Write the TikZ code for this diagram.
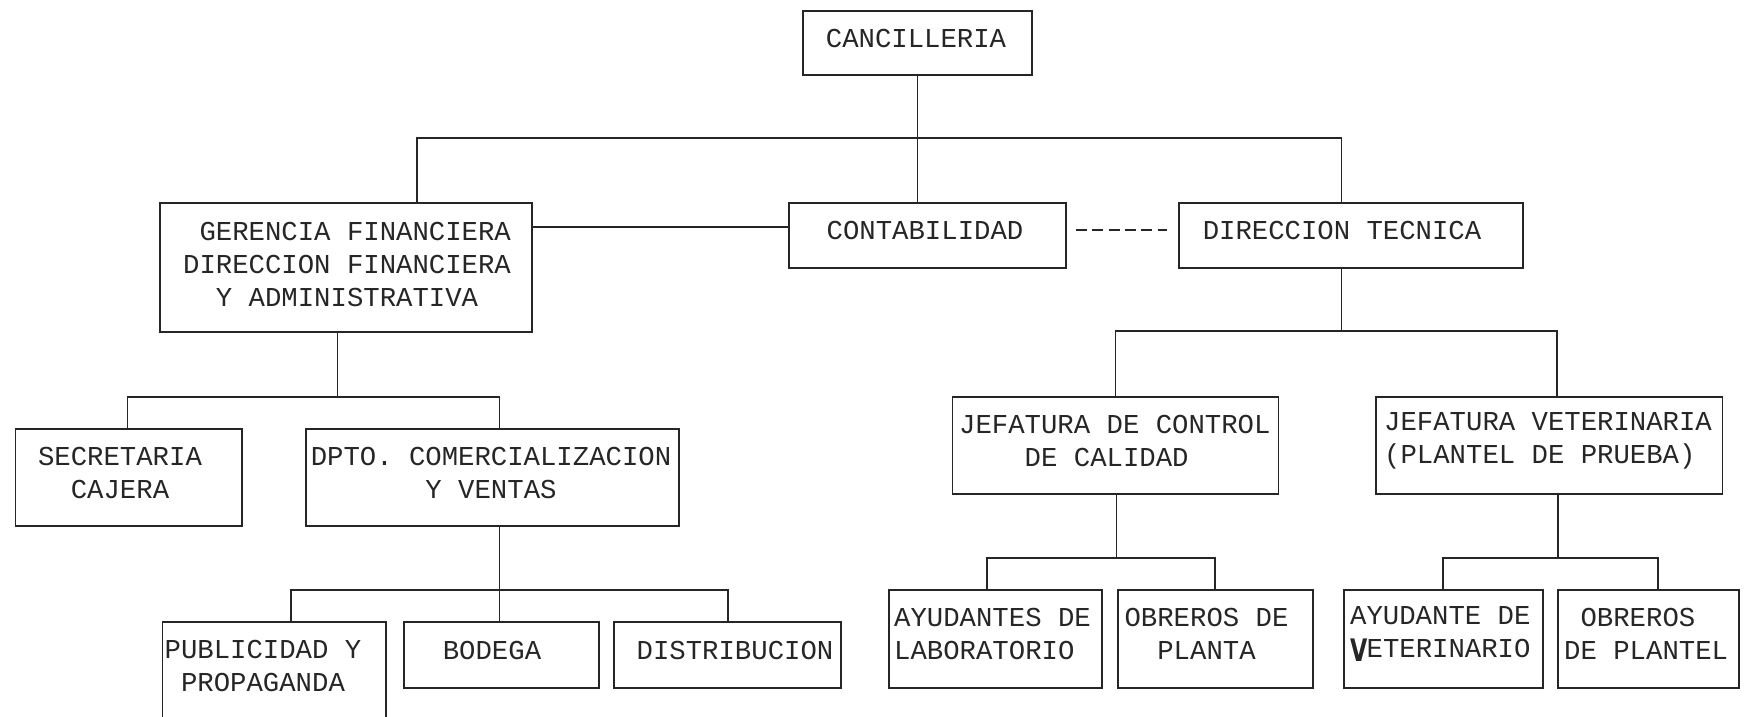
\documentclass[tikz,border=0pt]{standalone}
\usepackage{fontspec}
\usepackage{graphicx}
\newfontfamily\plotfont{Liberation Mono}
\newfontfamily\vfont{DejaVu Sans}
\newcommand\padc{\hphantom{X}}
\newcommand\boldV{\makebox[16.4pt][l]{\raisebox{-4pt}{\scalebox{0.72}[1]{\fontsize{31}{33}\vfont\bfseries V}}}}
\begin{document}
\begin{tikzpicture}[x=1pt,y=-1pt,
  box/.style={draw=black!85, line width=1.6pt, inner sep=0pt},
  txt/.style={inner sep=0pt, text=black!85, font=\plotfont\fontsize{27.3}{33}\selectfont},
  ln/.style={draw=black!85, line width=1.5pt}]
\clip (0,0) rectangle (1744,716);
\fill[white] (0,0) rectangle (1744,716);
% boxes
\node[box, minimum width=229, minimum height=64] (can) at (917.5,43) {};
\node[box, minimum width=372, minimum height=129] (ger) at (346,267.5) {};
\node[box, minimum width=277, minimum height=65] (con) at (927.5,235.5) {};
\node[box, minimum width=344, minimum height=65] (dir) at (1351,235.5) {};
\node[box, minimum width=226.5, minimum height=97] (sec) at (128.75,477.5) {};
\node[box, minimum width=373, minimum height=97] (dpto) at (492.5,477.5) {};
\node[box, minimum width=326, minimum height=97] (jcc) at (1115.6,445.3) {};
\node[box, minimum width=346.6, minimum height=97] (jv) at (1549,445.3) {};
\node[box, minimum width=223.5, minimum height=118] (pub) at (274.25,681) {};
\node[box, minimum width=195, minimum height=66] (bod) at (501.5,655) {};
\node[box, minimum width=227, minimum height=66] (dis) at (727.5,655) {};
\node[box, minimum width=213, minimum height=98] (ayl) at (995.5,639) {};
\node[box, minimum width=195, minimum height=98] (obp) at (1215.5,639) {};
\node[box, minimum width=199, minimum height=98] (ayv) at (1443.5,639) {};
\node[box, minimum width=181, minimum height=98] (obpl) at (1648.5,639) {};
% texts
\node[txt] (canT) at (916,38) {CANCILLERIA};
\node[txt, anchor=west, align=left] (gerT) at (183,264)
  {\padc GERENCIA FINANCIERA\\DIRECCION FINANCIERA\\\padc\padc Y ADMINISTRATIVA};
\node[txt] (conT) at (925,230) {CONTABILIDAD};
\node[txt] (dirT) at (1342,230) {DIRECCION TECNICA};
\node[txt, align=center] (secT) at (120,473) {SECRETARIA\\CAJERA};
\node[txt, align=center] (dptoT) at (491,473) {DPTO. COMERCIALIZACION\\Y VENTAS};
\node[txt, anchor=west, align=left] (jccT) at (959,441) {JEFATURA DE CONTROL\\\padc\padc\padc\padc DE CALIDAD};
\node[txt, anchor=west, align=left] (jvT) at (1384,441) {JEFATURA VETERINARIA\\(PLANTEL DE PRUEBA)};
\node[txt, anchor=west, align=left] (pubT) at (164.5,666) {PUBLICIDAD Y\\\padc PROPAGANDA};
\node[txt] (bodT) at (492,650) {BODEGA};
\node[txt] (disT) at (735,650) {DISTRIBUCION};
\node[txt, anchor=west, align=left] (aylT) at (894,634) {AYUDANTES DE\\LABORATORIO};
\node[txt, align=center] (obpT) at (1206.5,634) {OBREROS DE\\PLANTA};
\node[txt, anchor=west, align=left] (ayvT) at (1350,634) {AYUDANTE DE\\\boldV ETERINARIO};
\node[txt, anchor=west, align=left] (obplT) at (1564,634) {\padc OBREROS\\DE PLANTEL};
% connectors
\coordinate (t1) at (417,138);
\coordinate (t2) at (1341.5,138);
\draw[ln] (can.south) -- (can.south |- con.north);
\draw[ln] (t1 |- ger.north) -- (t1) -- (t2) -- (t2 |- dir.north);
\coordinate (h1) at (0,227);
\draw[ln] (ger.east |- h1) -- (con.west |- h1);
\coordinate (h2) at (0,230);
\draw[ln, dash pattern=on 11pt off 5.4pt] ([xshift=9pt]con.east |- h2) -- ([xshift=-11pt]dir.west |- h2);
\coordinate (d1) at (1341.5,331);
\coordinate (d2) at (1115.6,331);
\coordinate (d3) at (1557,331);
\draw[ln] (d1 |- dir.south) -- (d1);
\draw[ln] (jcc.north) -- (d2) -- (d3) -- (d3 |- jv.north);
\coordinate (g1) at (337.5,397);
\coordinate (g2) at (127.5,397);
\coordinate (g3) at (499.5,397);
\draw[ln] (g1 |- ger.south) -- (g1);
\draw[ln] (g2 |- sec.north) -- (g2) -- (g3) -- (g3 |- dpto.north);
\coordinate (p1) at (499.5,590);
\coordinate (p2) at (291,590);
\coordinate (p3) at (728,590);
\draw[ln] (p1 |- dpto.south) -- (p1 |- bod.north);
\draw[ln] (p2 |- pub.north) -- (p2) -- (p3) -- (p3 |- dis.north);
\coordinate (q1) at (1116.5,558);
\coordinate (q2) at (987,558);
\coordinate (q3) at (1215,558);
\draw[ln] (q1 |- jcc.south) -- (q1);
\draw[ln] (q2 |- ayl.north) -- (q2) -- (q3) -- (q3 |- obp.north);
\coordinate (r1) at (1558,558);
\coordinate (r2) at (1443,558);
\coordinate (r3) at (1658,558);
\draw[ln] (r1 |- jv.south) -- (r1);
\draw[ln] (r2 |- ayv.north) -- (r2) -- (r3) -- (r3 |- obpl.north);
\end{tikzpicture}
\end{document}
